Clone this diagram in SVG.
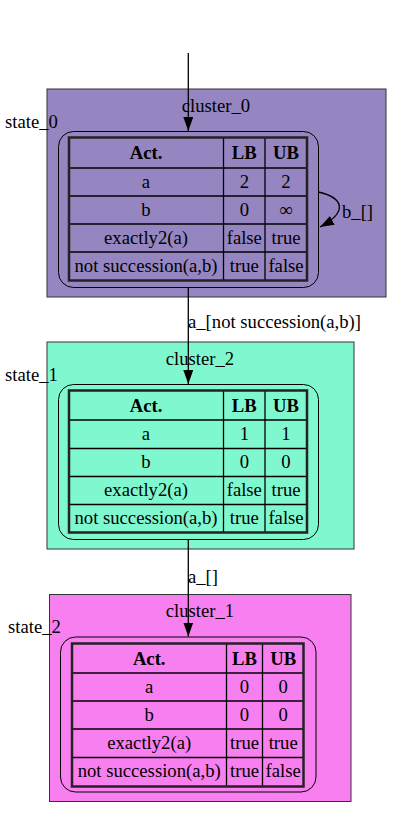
<svg xmlns="http://www.w3.org/2000/svg" width="402" height="818" viewBox="0 0 402 818">
<defs>
<marker id="ah" markerWidth="14" markerHeight="10" refX="14" refY="5" orient="auto" markerUnits="userSpaceOnUse" viewBox="0 0 14 10"><path d="M0,0 L14,5 L0,10 Z" fill="#000"/></marker>
<style>
text{font-family:"Liberation Serif","Times New Roman",serif;font-size:18.67px;fill:#000}
.c{text-anchor:middle}
.b{font-weight:bold}
.cl{stroke:#333;stroke-width:1}
.rr{fill:none;stroke:#000;stroke-width:1}
.tb{fill:none;stroke:#222;stroke-width:2.5}
.ln{stroke:#000;stroke-width:1.3}
.e{fill:none;stroke:#000;stroke-width:1.3}
</style>
</defs>
<rect width="402" height="818" fill="#fff"/>

<g id="cluster_0">
<rect class="cl" x="47" y="89" width="339" height="208" fill="#9585c1"/>
<text class="c" x="216" y="112">cluster_0</text>
</g>
<g id="cluster_2">
<rect class="cl" x="47" y="342" width="307" height="207" fill="#80f8cf"/>
<text class="c" x="200" y="365">cluster_2</text>
</g>
<g id="cluster_1">
<rect class="cl" x="49.5" y="594.5" width="301.5" height="207" fill="#f87ff0"/>
<text class="c" x="200" y="617">cluster_1</text>
</g>

<g id="state_0">
<text x="5" y="128">state_0</text>
<rect class="rr" x="58.5" y="131.5" width="260" height="156" rx="15"/>
<g class="ln">
<line x1="68.5" y1="168" x2="307.5" y2="168"/><line x1="68.5" y1="196" x2="307.5" y2="196"/><line x1="68.5" y1="224" x2="307.5" y2="224"/><line x1="68.5" y1="252" x2="307.5" y2="252"/>
<line x1="223.5" y1="137" x2="223.5" y2="281"/><line x1="265" y1="137" x2="265" y2="281"/>
</g>
<rect class="tb" x="69" y="137.5" width="238" height="143"/>
<text class="c b" x="146" y="159">Act.</text><text class="c b" x="244.3" y="159">LB</text><text class="c b" x="286" y="159">UB</text>
<text class="c" x="146" y="188">a</text><text class="c" x="244.3" y="188">2</text><text class="c" x="286" y="188">2</text>
<text class="c" x="146" y="216">b</text><text class="c" x="244.3" y="216">0</text><text class="c" x="286" y="216">∞</text>
<text class="c" x="146" y="244">exactly2(a)</text><text class="c" x="244.3" y="244">false</text><text class="c" x="286" y="244">true</text>
<text class="c" x="146" y="272">not succession(a,b)</text><text class="c" x="244.3" y="272">true</text><text class="c" x="286" y="272">false</text>
</g>

<g id="state_1">
<text x="5" y="381">state_1</text>
<rect class="rr" x="58.5" y="384.5" width="260" height="155" rx="15"/>
<g class="ln">
<line x1="68.5" y1="420" x2="307.5" y2="420"/><line x1="68.5" y1="448.5" x2="307.5" y2="448.5"/><line x1="68.5" y1="476.5" x2="307.5" y2="476.5"/><line x1="68.5" y1="504.5" x2="307.5" y2="504.5"/>
<line x1="223.5" y1="390" x2="223.5" y2="533"/><line x1="265" y1="390" x2="265" y2="533"/>
</g>
<rect class="tb" x="69" y="390.5" width="238" height="142"/>
<text class="c b" x="146" y="412">Act.</text><text class="c b" x="244.3" y="412">LB</text><text class="c b" x="286" y="412">UB</text>
<text class="c" x="146" y="440">a</text><text class="c" x="244.3" y="440">1</text><text class="c" x="286" y="440">1</text>
<text class="c" x="146" y="468">b</text><text class="c" x="244.3" y="468">0</text><text class="c" x="286" y="468">0</text>
<text class="c" x="146" y="496">exactly2(a)</text><text class="c" x="244.3" y="496">false</text><text class="c" x="286" y="496">true</text>
<text class="c" x="146" y="524">not succession(a,b)</text><text class="c" x="244.3" y="524">true</text><text class="c" x="286" y="524">false</text>
</g>

<g id="state_2">
<text x="8" y="633">state_2</text>
<rect class="rr" x="60.5" y="637" width="255.5" height="155" rx="15"/>
<g class="ln">
<line x1="71.5" y1="673" x2="304" y2="673"/><line x1="71.5" y1="701" x2="304" y2="701"/><line x1="71.5" y1="729" x2="304" y2="729"/><line x1="71.5" y1="757.5" x2="304" y2="757.5"/>
<line x1="226.5" y1="643" x2="226.5" y2="787"/><line x1="262.5" y1="643" x2="262.5" y2="787"/>
</g>
<rect class="tb" x="72" y="643.5" width="231.5" height="143"/>
<text class="c b" x="149.2" y="665">Act.</text><text class="c b" x="244.5" y="665">LB</text><text class="c b" x="283.2" y="665">UB</text>
<text class="c" x="149.2" y="693">a</text><text class="c" x="244.5" y="693">0</text><text class="c" x="283.2" y="693">0</text>
<text class="c" x="149.2" y="721">b</text><text class="c" x="244.5" y="721">0</text><text class="c" x="283.2" y="721">0</text>
<text class="c" x="149.2" y="749">exactly2(a)</text><text class="c" x="244.5" y="749">true</text><text class="c" x="283.2" y="749">true</text>
<text class="c" x="149.2" y="777">not succession(a,b)</text><text class="c" x="244.5" y="777">true</text><text class="c" x="283.2" y="777">false</text>
</g>

<g id="edges">
<path class="e" d="M188.3,53 L188.3,131" marker-end="url(#ah)"/>
<path class="e" d="M318.5,192 C344,198 348,212 320,227" marker-end="url(#ah)"/>
<text x="342" y="218">b_[]</text>
<path class="e" d="M188.3,287.5 L188.3,384" marker-end="url(#ah)"/>
<text x="188" y="328">a_[not succession(a,b)]</text>
<path class="e" d="M188.3,539.5 L188.3,636.5" marker-end="url(#ah)"/>
<text x="188" y="583">a_[]</text>
</g>
</svg>
